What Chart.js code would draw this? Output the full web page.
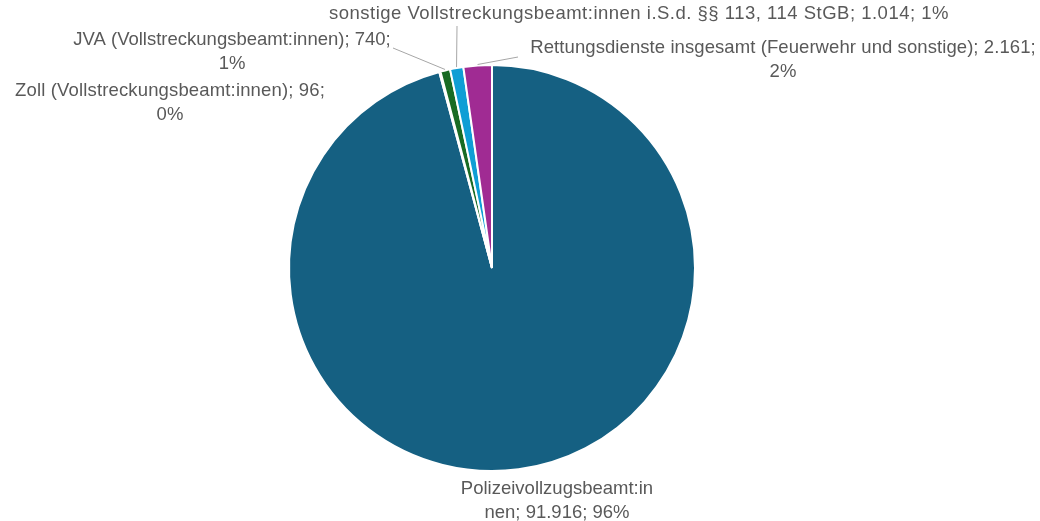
<!DOCTYPE html>
<html>
<head>
<meta charset="utf-8">
<script src="https://cdn.jsdelivr.net/npm/chart.js@4/dist/chart.umd.min.js"></script>
<style>
html,body{margin:0;padding:0;background:#fff;}
#wrap{width:1040px;height:521px;position:relative;}
</style>
</head>
<body>
<div id="wrap"><canvas id="c" width="1040" height="521"></canvas></div>
<script>
const categories = [
  "Polizeivollzugsbeamt:innen",
  "Zoll (Vollstreckungsbeamt:innen)",
  "JVA (Vollstreckungsbeamt:innen)",
  "sonstige Vollstreckungsbeamt:innen i.S.d. §§ 113, 114 StGB",
  "Rettungsdienste insgesamt (Feuerwehr und sonstige)"
];
const values = [91916, 96, 740, 1014, 2161];
const valueLabels = ["91.916", "96", "740", "1.014", "2.161"];
const percentLabels = ["96%", "0%", "1%", "1%", "2%"];
const colors = ["#156082", "#E97132", "#196B24", "#0F9ED5", "#A02B93"];

// label layout: lines of text, centre x, first-line y, letter spacing, and leader anchor point (null = no leader)
const labelLayout = [
  {lines: ["Polizeivollzugsbeamt:in", "nen; " + valueLabels[0] + "; " + percentLabels[0]], x: 557, y: 489, ls: 0, anchor: null},
  {lines: [categories[1] + "; " + valueLabels[1] + ";", percentLabels[1]], x: 170, y: 91, ls: 0.15, anchor: null},
  {lines: [categories[2] + "; " + valueLabels[2] + ";", percentLabels[2]], x: 232, y: 40, ls: 0, anchor: [393, 48]},
  {lines: [categories[3] + "; " + valueLabels[3] + "; " + percentLabels[3]], x: 639, y: 14, ls: 0.5, anchor: [457, 26]},
  {lines: [categories[4] + "; " + valueLabels[4] + ";", percentLabels[4]], x: 783, y: 48, ls: 0.08, anchor: [518, 57]}
];

const FONT = '18.5px "Liberation Sans", Arial, sans-serif';

const labelPlugin = {
  id: 'pieLabels',
  afterDatasetsDraw(chart) {
    const ctx = chart.ctx;
    const meta = chart.getDatasetMeta(0);
    ctx.save();
    ctx.strokeStyle = '#a6a6a6';
    ctx.lineWidth = 1;
    labelLayout.forEach((lab, i) => {
      if (!lab.anchor) return;
      const arc = meta.data[i];
      const p = arc.getProps(['x', 'y', 'startAngle', 'endAngle', 'outerRadius'], true);
      const mid = (p.startAngle + p.endAngle) / 2;
      const ex = p.x + Math.cos(mid) * (p.outerRadius + 1);
      const ey = p.y + Math.sin(mid) * (p.outerRadius + 1);
      ctx.beginPath();
      ctx.moveTo(lab.anchor[0], lab.anchor[1]);
      ctx.lineTo(ex, ey);
      ctx.stroke();
    });
    ctx.fillStyle = '#595959';
    ctx.font = FONT;
    ctx.textAlign = 'center';
    ctx.textBaseline = 'middle';
    labelLayout.forEach(lab => {
      if ('letterSpacing' in ctx) ctx.letterSpacing = lab.ls + 'px';
      lab.lines.forEach((t, k) => {
        ctx.fillText(t, lab.x, lab.y + k * 23.5);
      });
    });
    ctx.restore();
  }
};

new Chart(document.getElementById('c'), {
  type: 'pie',
  data: {
    labels: categories,
    datasets: [{
      data: values,
      backgroundColor: colors,
      borderColor: '#ffffff',
      borderWidth: 2
    }]
  },
  options: {
    responsive: false,
    animation: false,
    layout: {padding: {left: 192, right: 248, top: 64, bottom: 49}},
    plugins: {
      legend: {display: false},
      tooltip: {enabled: false},
      title: {display: false}
    }
  },
  plugins: [labelPlugin]
});
</script>
</body>
</html>
